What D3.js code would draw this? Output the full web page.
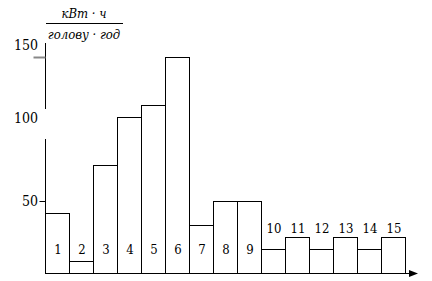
<!DOCTYPE html>
<html>
  <head>
    <meta charset="utf-8">
    <script src="https://d3js.org/d3.v7.min.js"></script>
    <style type="text/css">
body {
  margin: 0;
  background: #fff;
}
svg text {
  font-family: "DejaVu Serif", serif;
  font-stretch: condensed;
  fill: #000;
}
    </style>
  </head>
  <body>
    <div id="chart"></div>
    <script type="text/javascript">
// data
var categories = ["1","2","3","4","5","6","7","8","9","10","11","12","13","14","15"];
var values = [42, 8, 75, 108, 117, 150, 33, 50, 50, 17, 25, 17, 25, 17, 25];
var tickValues = [50, 100, 150];
var unitTop = "кВт · ч";
var unitBottom = "голову · год";

var width = 432, height = 281;

var svg = d3.select("#chart").append("svg")
    .attr("width", width)
    .attr("height", height);

var x = d3.scaleBand()
    .domain(categories)
    .range([45, 405])
    .padding(0);

var y = d3.scaleLinear()
    .domain([0, 150])
    .range([273, 57]);

// bars
svg.append("g").selectAll("rect")
    .data(values)
    .enter().append("rect")
    .attr("x", function(d, i) { return Math.round(x(categories[i])) + 0.5; })
    .attr("y", function(d) { return Math.round(y(d)) + 0.5; })
    .attr("width", x.bandwidth())
    .attr("height", function(d) { return Math.round(y(0)) - Math.round(y(d)); })
    .attr("fill", "#fff")
    .attr("stroke", "#000")
    .attr("stroke-width", 1);

// bar numbers: inside the tall ones, above the short ones
svg.append("g").selectAll("text")
    .data(values)
    .enter().append("text")
    .attr("x", function(d, i) { return x(categories[i]) + x.bandwidth() / 2 + 1; })
    .attr("y", function(d, i) { return i < 9 ? 254 : 233; })
    .attr("text-anchor", "middle")
    .attr("font-size", 13)
    .text(function(d, i) { return categories[i]; });

// y axis (line with a break behind "100")
var ax = 45.5;
svg.append("line")
    .attr("x1", ax).attr("x2", ax)
    .attr("y1", 43).attr("y2", 109)
    .attr("stroke", "#000");
svg.append("line")
    .attr("x1", ax).attr("x2", ax)
    .attr("y1", 139).attr("y2", 273)
    .attr("stroke", "#000");

var tickStyle = {
  50: {dy: 5, tick: 6, color: "#000"},
  100: {dy: -6, tick: 0, color: "#000"},
  150: {dy: -7, tick: 12, color: "#888"}
};

var ticks = svg.append("g").selectAll("g")
    .data(tickValues)
    .enter().append("g");

ticks.append("line")
    .attr("x1", function(d) { return ax - tickStyle[d].tick; })
    .attr("x2", ax)
    .attr("y1", function(d) { return Math.round(y(d)) + 0.5; })
    .attr("y2", function(d) { return Math.round(y(d)) + 0.5; })
    .attr("stroke", function(d) { return tickStyle[d].color; })
    .attr("stroke-width", function(d) { return d === 150 ? 2 : 1; });

ticks.append("text")
    .attr("x", 38)
    .attr("y", function(d) { return y(d) + tickStyle[d].dy; })
    .attr("text-anchor", "end")
    .attr("font-size", 14)
    .text(function(d) { return d; });

// x axis with arrow
svg.append("line")
    .attr("x1", 45).attr("x2", 410)
    .attr("y1", 273.5).attr("y2", 273.5)
    .attr("stroke", "#000");
svg.append("path")
    .attr("d", "M409,270L418,273.5L409,277Z")
    .attr("fill", "#000");

// unit fraction
svg.append("text")
    .attr("x", 84).attr("y", 18)
    .attr("text-anchor", "middle")
    .attr("font-size", 13)
    .attr("font-style", "italic")
    .text(unitTop);
svg.append("line")
    .attr("x1", 46).attr("x2", 123)
    .attr("y1", 23.5).attr("y2", 23.5)
    .attr("stroke", "#000");
svg.append("text")
    .attr("x", 84).attr("y", 39)
    .attr("text-anchor", "middle")
    .attr("font-size", 13)
    .attr("font-style", "italic")
    .text(unitBottom);
    </script>
  </body>
</html>
